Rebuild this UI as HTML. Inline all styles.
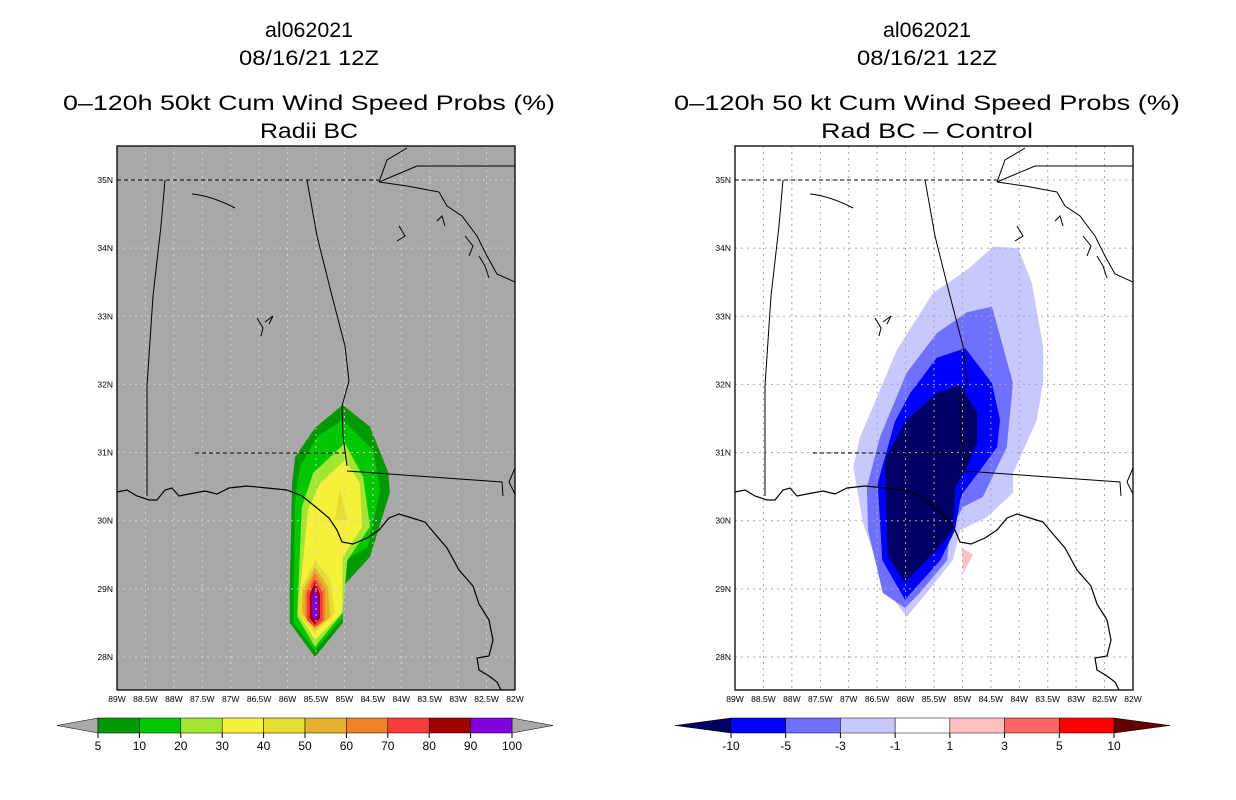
<!DOCTYPE html>
<html><head><meta charset="utf-8"><style>
html,body{margin:0;padding:0;background:#fff;}
svg{display:block;font-family:"Liberation Sans",sans-serif;}
</style></head><body>
<svg id="root" width="1236" height="800" viewBox="0 0 1236 800"></svg>
<script>
// ---- data ----
const lonTicks=[-89,-88.5,-88,-87.5,-87,-86.5,-86,-85.5,-85,-84.5,-84,-83.5,-83,-82.5,-82];
const lonLabels=["89W","88.5W","88W","87.5W","87W","86.5W","86W","85.5W","85W","84.5W","84W","83.5W","83W","82.5W","82W"];
const latTicks=[28,29,30,31,32,33,34,35];
const latLabels=["28N","29N","30N","31N","32N","33N","34N","35N"];
const leftLevels=["5","10","20","30","40","50","60","70","80","90","100"];
const leftColors=["#009a00","#00c800","#a2e632","#f5f03a","#e6dc32","#e6af2d","#f08228","#fa3c3c","#a00000","#8200dc"];
const rightLevels=["-10","-5","-3","-1","1","3","5","10"];
const rightColors=["#0000ff","#7070ff","#c8c8ff","#ffffff","#ffc0c0","#ff6464","#ff0000"];
const leftContours=[
 {c:"#009a00",p:[[-85.03,31.70],[-84.55,31.38],[-84.23,30.71],[-84.20,30.41],[-84.55,29.47],[-85.03,29.03],[-85.03,28.50],[-85.52,28.00],[-85.96,28.50],[-85.96,29.01],[-85.92,30.55],[-85.87,30.93],[-85.52,31.36]]},
 {c:"#00c800",p:[[-85.03,31.48],[-84.50,31.04],[-84.37,30.45],[-84.59,29.61],[-84.99,29.42],[-85.03,28.57],[-85.52,28.10],[-85.90,28.50],[-85.87,30.30],[-85.78,30.79],[-85.48,31.23]]},
 {c:"#a2e632",p:[[-84.99,31.14],[-84.67,30.64],[-84.55,29.91],[-84.95,29.42],[-85.03,28.65],[-85.52,28.15],[-85.83,28.59],[-85.75,30.20],[-85.55,30.70]]},
 {c:"#f5f03a",p:[[-84.99,30.89],[-84.73,30.55],[-84.69,29.91],[-85.03,29.47],[-85.04,28.65],[-85.52,28.25],[-85.82,28.65],[-85.64,30.16],[-85.43,30.55]]},
 {c:"#e6dc32",p:[[-85.08,30.45],[-84.95,30.01],[-85.17,30.01]]},
 {c:"#e6dc32",p:[[-85.52,29.42],[-85.25,29.13],[-85.17,28.65],[-85.52,28.35],[-85.82,28.65],[-85.75,29.03]]},
 {c:"#e6af2d",p:[[-85.52,29.32],[-85.29,29.03],[-85.25,28.59],[-85.52,28.40],[-85.75,28.65],[-85.73,28.98]]},
 {c:"#f08228",p:[[-85.52,29.25],[-85.34,28.98],[-85.34,28.54],[-85.52,28.43],[-85.69,28.59],[-85.69,28.95]]},
 {c:"#fa3c3c",p:[[-85.52,29.17],[-85.38,28.94],[-85.38,28.54],[-85.52,28.44],[-85.66,28.54],[-85.66,28.94]]},
 {c:"#a00000",p:[[-85.52,29.10],[-85.43,28.91],[-85.43,28.57],[-85.52,28.48],[-85.61,28.57],[-85.61,28.91]]},
 {c:"#8200dc",p:[[-85.52,29.01],[-85.46,28.88],[-85.46,28.60],[-85.52,28.54],[-85.57,28.60],[-85.57,28.88]]}
];
const rightContours=[
 {c:"#c8c8ff",p:[[-84.46,34.02],[-84.02,34.00],[-83.78,33.49],[-83.58,32.55],[-83.58,32.06],[-83.69,31.48],[-84.11,30.70],[-84.11,30.41],[-84.57,30.05],[-85.04,29.86],[-85.17,29.42],[-85.69,28.88],[-85.98,28.59],[-86.33,28.98],[-86.75,29.97],[-86.92,30.79],[-86.80,31.23],[-86.15,32.51],[-85.52,33.34],[-84.92,33.68]]},
 {c:"#7070ff",p:[[-84.48,33.14],[-84.11,32.02],[-84.22,31.08],[-84.64,30.35],[-84.99,30.20],[-85.22,29.86],[-85.27,29.42],[-85.75,28.94],[-86.01,28.72],[-86.40,28.94],[-86.66,29.86],[-86.68,30.49],[-86.45,31.23],[-85.98,32.17],[-85.45,32.75],[-84.92,33.06]]},
 {c:"#0000ff",p:[[-84.95,32.53],[-84.48,32.02],[-84.34,31.48],[-84.39,31.08],[-84.69,30.74],[-84.99,30.41],[-85.04,30.30],[-85.13,29.86],[-85.39,29.42],[-86.01,28.84],[-86.41,29.42],[-86.49,30.55],[-86.19,31.45],[-85.92,31.87],[-85.45,32.39]]},
 {c:"#000064",p:[[-85.04,31.99],[-84.74,31.58],[-84.74,31.14],[-84.95,30.74],[-85.13,30.49],[-85.17,29.86],[-85.45,29.57],[-86.01,29.10],[-86.31,29.47],[-86.36,30.89],[-86.01,31.45],[-85.45,31.87]]},
 {c:"#ffc0c0",p:[[-85.01,29.60],[-84.81,29.50],[-84.99,29.23]]}
];
// ---- geometry ----
const W=398,H=544;
const xS=lon=>(lon+89)*W/7;
const yS=lat=>34+(35-lat)*68.14;
const coast="M0,346 L10,344 L20,350 L32,354 L40,354 L48,344 L55,342 L62,350 L72,348 L88,345 L100,348 L112,342 L130,340 L150,342 L170,344 L185,350 L200,362 L212,372 L220,384 L225,396 L236,398 L250,392 L262,384 L272,372 L282,368 L295,372 L308,376 L318,388 L330,402 L342,424 L356,440 L362,458 L372,474 L376,494 L372,510 L360,512 L362,524 L372,530 L380,536 L384,544";
const borders=[
 "M48,34 L44,80 L36,150 L30,240 L30,350",
 "M190,34 L200,90 L215,150 L228,200 L232,235 L225,260 L226,290 L230,320",
 "M230,325 L300,330 L385,336 L386,350",
 "M262,36 L270,14 L290,2",
 "M262,36 L300,20 L398,20",
 "M322,46 L330,60 L345,70 L360,90 L370,110 L380,128 L398,136",
 "M262,36 L290,40 L322,46",
 "M398,322 L392,336 L398,348"
];
const dashed=["M0,34 L262,34","M78,307 L230,307"];
const lakes=["M75,48 Q95,50 118,62","M148,176 L156,170 L152,178","M140,172 L146,182 L144,190","M280,95 L288,90 L282,80","M320,75 L325,70 L328,80","M362,110 L368,120 L372,132","M348,90 L356,100 L352,110"];

const svg=document.getElementById('root');
const NS="http://www.w3.org/2000/svg";
function mk(tag,attrs,parent){const e=document.createElementNS(NS,tag);for(const k in attrs)e.setAttribute(k,attrs[k]);(parent||svg).appendChild(e);return e;}

function titleText(x,y,txt,len,name){
 const t=mk('text',{x:x,y:y,'text-anchor':'middle','font-size':'21',textLength:len,lengthAdjust:'spacingAndGlyphs',fill:'#000'});
 t.textContent=txt;
 
 
}

function panel(ox,bg,contours,grid,pname){
 const g=mk('g',{transform:`translate(${ox},146)`});
 
 
 mk('rect',{x:0,y:0,width:W,height:H,fill:bg},g);
 const cp=mk('clipPath',{id:'cp'+ox},g);mk('rect',{x:0,y:0,width:W,height:H},cp);
 const inner=mk('g',{'clip-path':`url(#cp${ox})`},g);
 contours.forEach((c,i)=>{
  const pts=c.p.map(q=>xS(q[0]).toFixed(1)+','+yS(q[1]).toFixed(1)).join(' ');
  const pg=mk('polygon',{points:pts,fill:c.c},inner);
  
  
 });
 lonTicks.forEach(l=>{if(l>-89&&l<-82)mk('line',{x1:xS(l),x2:xS(l),y1:0,y2:H,stroke:grid,'stroke-dasharray':'2,4','stroke-width':1},inner);});
 latTicks.forEach(l=>mk('line',{x1:0,x2:W,y1:yS(l),y2:yS(l),stroke:grid,'stroke-dasharray':'2,4','stroke-width':1},inner));
 mk('path',{d:coast,fill:'none',stroke:'#000','stroke-width':1.2},inner);
 borders.forEach(d=>mk('path',{d:d,fill:'none',stroke:'#000','stroke-width':1},inner));
 dashed.forEach(d=>mk('path',{d:d,fill:'none',stroke:'#000','stroke-width':1,'stroke-dasharray':'4,3'},inner));
 lakes.forEach(d=>mk('path',{d:d,fill:'none',stroke:'#000','stroke-width':1},inner));
 mk('rect',{x:0,y:0,width:W,height:H,fill:'none',stroke:'#000','stroke-width':1.3},g);
 lonTicks.forEach((l,i)=>{const t=mk('text',{x:xS(l),y:H+12,'text-anchor':'middle','font-size':'8.5'},g);t.textContent=lonLabels[i];
  });
 latTicks.forEach((l,i)=>{const t=mk('text',{x:-4,y:yS(l)+3,'text-anchor':'end','font-size':'8.5'},g);t.textContent=latLabels[i];
  });
}

function colorbar(x0,x1,y,tw,colors,labels,leftTri,rightTri,name){
 const g=mk('g',{});
 
 
 const n=colors.length, bw=(x1-x0)/n;
 mk('polygon',{points:`${x0-tw},${y+7.5} ${x0},${y} ${x0},${y+15}`,fill:leftTri,stroke:'#000','stroke-width':0.5},g);
 mk('polygon',{points:`${x1+tw},${y+7.5} ${x1},${y} ${x1},${y+15}`,fill:rightTri,stroke:'#000','stroke-width':0.5},g);
 colors.forEach((c,i)=>{const r=mk('rect',{x:x0+i*bw,y:y,width:bw,height:15,fill:c,stroke:'#000','stroke-width':0.5},g);
  });
 labels.forEach((l,i)=>{mk('line',{x1:x0+i*bw,x2:x0+i*bw,y1:y+15,y2:y+20,stroke:'#000'},g);
  const t=mk('text',{x:x0+i*bw,y:y+32,'text-anchor':'middle','font-size':'12'},g);t.textContent=l;
  });
}

titleText(309,37,"al062021",88,'left-title-storm');
titleText(309,65,"08/16/21 12Z",140,'left-title-date');
titleText(309,110,"0–120h 50kt Cum Wind Speed Probs (%)",492,'left-title-main');
titleText(309,138,"Radii BC",98,'left-subtitle');
titleText(927,37,"al062021",88,'right-title-storm');
titleText(927,65,"08/16/21 12Z",140,'right-title-date');
titleText(927,110,"0–120h 50 kt Cum Wind Speed Probs (%)",506,'right-title-main');
titleText(927,138,"Rad BC – Control",212,'right-subtitle');

panel(117,'#a8a8a8',leftContours,'#d0d0d0','left-map-panel');
panel(735,'#ffffff',rightContours,'#a8a8a8','right-map-panel');

colorbar(98,512,718,41,leftColors,leftLevels,'#a8a8a8','#a8a8a8','left-colorbar');
colorbar(731,1114,718,56,rightColors,rightLevels,'#000064','#640000','right-colorbar');
</script>
</body></html>
